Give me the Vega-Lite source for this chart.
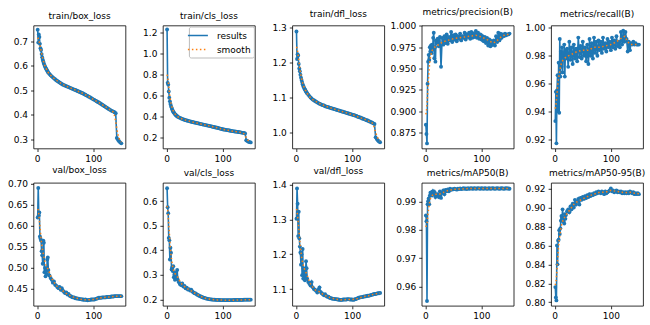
{
  "$schema": "https://vega.github.io/schema/vega-lite/v6.json",
  "background": "white",
  "autosize": {"type": "pad"},
  "padding": {"left": 6.5, "top": 7.5, "right": 0, "bottom": 0},
  "datasets": {
    "res": [
      {"e":1,"a":0.748,"b":1.232,"c":1.289,"d":0.884,"r":0.933,"f":0.620,"g":0.652,"h":1.302,"m":0.985,"n":0.816},
      {"e":2,"a":0.695,"b":0.722,"c":1.210,"d":0.873,"r":0.954,"f":0.690,"g":0.575,"h":1.389,"m":0.983,"n":0.805},
      {"e":3,"a":0.728,"b":0.705,"c":1.224,"d":0.862,"r":0.917,"f":0.625,"g":0.550,"h":1.345,"m":0.955,"n":0.802},
      {"e":4,"a":0.718,"b":0.640,"c":1.220,"d":0.932,"r":0.955,"f":0.632,"g":0.450,"h":1.252,"m":0.989,"n":0.860},
      {"e":5,"a":0.690,"b":0.580,"c":1.196,"d":0.958,"r":0.966,"f":0.575,"g":0.440,"h":1.322,"m":0.990,"n":0.840},
      {"e":6,"a":0.672,"b":0.545,"c":1.183,"d":0.966,"r":0.940,"f":0.570,"g":0.362,"h":1.246,"m":0.991,"n":0.865},
      {"e":7,"a":0.665,"b":0.520,"c":1.175,"d":0.960,"r":0.975,"f":0.565,"g":0.410,"h":1.222,"m":0.989,"n":0.866},
      {"e":8,"a":0.648,"b":0.500,"c":1.165,"d":0.975,"r":0.939,"f":0.540,"g":0.390,"h":1.205,"m":0.992,"n":0.876},
      {"e":9,"a":0.635,"b":0.485,"c":1.157,"d":0.970,"r":0.992,"f":0.530,"g":0.322,"h":1.170,"m":0.993,"n":0.872},
      {"e":10,"a":0.625,"b":0.470,"c":1.150,"d":0.977,"r":0.965,"f":0.510,"g":0.330,"h":1.200,"m":0.9925,"n":0.878},
      {"e":11,"a":0.618,"b":0.455,"c":1.144,"d":0.968,"r":0.983,"f":0.565,"g":0.315,"h":1.140,"m":0.993,"n":0.886},
      {"e":12,"a":0.610,"b":0.445,"c":1.138,"d":0.978,"r":0.972,"f":0.560,"g":0.335,"h":1.215,"m":0.992,"n":0.891},
      {"e":13,"a":0.603,"b":0.438,"c":1.133,"d":0.972,"r":0.986,"f":0.490,"g":0.290,"h":1.130,"m":0.9935,"n":0.889},
      {"e":14,"a":0.598,"b":0.430,"c":1.130,"d":0.986,"r":0.968,"f":0.500,"g":0.300,"h":1.160,"m":0.993,"n":0.898},
      {"e":15,"a":0.592,"b":0.423,"c":1.126,"d":0.992,"r":0.982,"f":0.480,"g":0.280,"h":1.150,"m":0.9935,"n":0.889},
      {"e":16,"a":0.588,"b":0.417,"c":1.123,"d":0.962,"r":0.978,"f":0.492,"g":0.310,"h":1.125,"m":0.9925,"n":0.885},
      {"e":17,"a":0.584,"b":0.412,"c":1.120,"d":0.975,"r":0.988,"f":0.485,"g":0.295,"h":1.140,"m":0.993,"n":0.883},
      {"e":18,"a":0.580,"b":0.406,"c":1.117,"d":0.958,"r":0.965,"f":0.520,"g":0.290,"h":1.180,"m":0.9915,"n":0.893},
      {"e":19,"a":0.576,"b":0.402,"c":1.114,"d":0.983,"r":0.984,"f":0.525,"g":0.320,"h":1.160,"m":0.992,"n":0.888},
      {"e":20,"a":0.572,"b":0.398,"c":1.112,"d":0.980,"r":0.978,"f":0.495,"g":0.280,"h":1.130,"m":0.992,"n":0.892},
      {"e":22,"a":0.567,"b":0.392,"c":1.108,"d":0.985,"r":0.985,"f":0.482,"g":0.270,"h":1.120,"m":0.9925,"n":0.896},
      {"e":24,"a":0.562,"b":0.387,"c":1.104,"d":0.976,"r":0.972,"f":0.476,"g":0.262,"h":1.115,"m":0.9915,"n":0.898},
      {"e":26,"a":0.557,"b":0.382,"c":1.100,"d":0.987,"r":0.990,"f":0.472,"g":0.258,"h":1.110,"m":0.9935,"n":0.895},
      {"e":28,"a":0.553,"b":0.377,"c":1.097,"d":0.952,"r":0.977,"f":0.465,"g":0.265,"h":1.120,"m":0.9912,"n":0.901},
      {"e":30,"a":0.549,"b":0.372,"c":1.094,"d":0.986,"r":0.986,"f":0.468,"g":0.252,"h":1.105,"m":0.9930,"n":0.898},
      {"e":32,"a":0.545,"b":0.369,"c":1.092,"d":0.978,"r":0.974,"f":0.460,"g":0.255,"h":1.100,"m":0.9938,"n":0.904},
      {"e":34,"a":0.541,"b":0.365,"c":1.090,"d":0.988,"r":0.988,"f":0.458,"g":0.245,"h":1.098,"m":0.9925,"n":0.900},
      {"e":36,"a":0.538,"b":0.362,"c":1.088,"d":0.980,"r":0.978,"f":0.455,"g":0.248,"h":1.095,"m":0.9940,"n":0.908},
      {"e":38,"a":0.535,"b":0.359,"c":1.086,"d":0.990,"r":0.985,"f":0.452,"g":0.240,"h":1.090,"m":0.9935,"n":0.903},
      {"e":40,"a":0.532,"b":0.356,"c":1.084,"d":0.979,"r":0.976,"f":0.455,"g":0.242,"h":1.098,"m":0.9942,"n":0.906},
      {"e":42,"a":0.529,"b":0.353,"c":1.082,"d":0.987,"r":0.993,"f":0.448,"g":0.236,"h":1.105,"m":0.9935,"n":0.909},
      {"e":44,"a":0.526,"b":0.350,"c":1.081,"d":0.983,"r":0.979,"f":0.452,"g":0.240,"h":1.092,"m":0.9944,"n":0.903},
      {"e":46,"a":0.523,"b":0.347,"c":1.079,"d":0.993,"r":0.987,"f":0.446,"g":0.232,"h":1.088,"m":0.9940,"n":0.910},
      {"e":48,"a":0.521,"b":0.345,"c":1.078,"d":0.981,"r":0.978,"f":0.443,"g":0.228,"h":1.085,"m":0.9943,"n":0.908},
      {"e":50,"a":0.519,"b":0.342,"c":1.077,"d":0.989,"r":0.990,"f":0.440,"g":0.225,"h":1.082,"m":0.9942,"n":0.911},
      {"e":52,"a":0.517,"b":0.340,"c":1.075,"d":0.984,"r":0.980,"f":0.442,"g":0.224,"h":1.085,"m":0.9944,"n":0.909},
      {"e":54,"a":0.515,"b":0.337,"c":1.074,"d":0.990,"r":0.986,"f":0.437,"g":0.220,"h":1.080,"m":0.9943,"n":0.912},
      {"e":56,"a":0.513,"b":0.335,"c":1.073,"d":0.982,"r":0.976,"f":0.438,"g":0.218,"h":1.078,"m":0.9941,"n":0.910},
      {"e":58,"a":0.511,"b":0.332,"c":1.072,"d":0.988,"r":0.988,"f":0.434,"g":0.215,"h":1.078,"m":0.9944,"n":0.913},
      {"e":60,"a":0.509,"b":0.330,"c":1.071,"d":0.985,"r":0.974,"f":0.433,"g":0.213,"h":1.075,"m":0.9943,"n":0.911},
      {"e":62,"a":0.507,"b":0.327,"c":1.070,"d":0.991,"r":0.992,"f":0.431,"g":0.211,"h":1.074,"m":0.9945,"n":0.914},
      {"e":64,"a":0.505,"b":0.325,"c":1.069,"d":0.983,"r":0.980,"f":0.430,"g":0.209,"h":1.073,"m":0.9943,"n":0.912},
      {"e":66,"a":0.503,"b":0.322,"c":1.068,"d":0.988,"r":0.989,"f":0.430,"g":0.207,"h":1.072,"m":0.9944,"n":0.914},
      {"e":68,"a":0.501,"b":0.320,"c":1.067,"d":0.986,"r":0.978,"f":0.428,"g":0.206,"h":1.072,"m":0.9946,"n":0.913},
      {"e":70,"a":0.499,"b":0.318,"c":1.066,"d":0.992,"r":0.993,"f":0.428,"g":0.204,"h":1.071,"m":0.9944,"n":0.915},
      {"e":72,"a":0.497,"b":0.315,"c":1.065,"d":0.984,"r":0.982,"f":0.427,"g":0.203,"h":1.071,"m":0.9945,"n":0.914},
      {"e":74,"a":0.495,"b":0.313,"c":1.064,"d":0.990,"r":0.990,"f":0.427,"g":0.202,"h":1.070,"m":0.9943,"n":0.916},
      {"e":76,"a":0.493,"b":0.310,"c":1.063,"d":0.987,"r":0.980,"f":0.426,"g":0.201,"h":1.070,"m":0.9946,"n":0.915},
      {"e":78,"a":0.491,"b":0.308,"c":1.062,"d":0.992,"r":0.991,"f":0.426,"g":0.200,"h":1.069,"m":0.9944,"n":0.917},
      {"e":80,"a":0.489,"b":0.305,"c":1.061,"d":0.985,"r":0.984,"f":0.425,"g":0.200,"h":1.069,"m":0.9945,"n":0.916},
      {"e":82,"a":0.487,"b":0.302,"c":1.060,"d":0.993,"r":0.990,"f":0.425,"g":0.199,"h":1.069,"m":0.9946,"n":0.915},
      {"e":84,"a":0.484,"b":0.300,"c":1.059,"d":0.986,"r":0.982,"f":0.424,"g":0.199,"h":1.070,"m":0.9944,"n":0.917},
      {"e":86,"a":0.482,"b":0.297,"c":1.058,"d":0.991,"r":0.993,"f":0.425,"g":0.199,"h":1.070,"m":0.9945,"n":0.916},
      {"e":88,"a":0.479,"b":0.295,"c":1.057,"d":0.987,"r":0.985,"f":0.424,"g":0.198,"h":1.070,"m":0.9946,"n":0.914},
      {"e":90,"a":0.477,"b":0.292,"c":1.056,"d":0.994,"r":0.989,"f":0.423,"g":0.198,"h":1.070,"m":0.9944,"n":0.917},
      {"e":92,"a":0.474,"b":0.290,"c":1.055,"d":0.986,"r":0.983,"f":0.424,"g":0.198,"h":1.071,"m":0.9945,"n":0.915},
      {"e":94,"a":0.472,"b":0.287,"c":1.054,"d":0.992,"r":0.992,"f":0.424,"g":0.198,"h":1.071,"m":0.9946,"n":0.916},
      {"e":96,"a":0.469,"b":0.284,"c":1.053,"d":0.985,"r":0.986,"f":0.425,"g":0.197,"h":1.070,"m":0.9945,"n":0.917},
      {"e":98,"a":0.466,"b":0.281,"c":1.052,"d":0.990,"r":0.990,"f":0.425,"g":0.197,"h":1.070,"m":0.9944,"n":0.918},
      {"e":100,"a":0.463,"b":0.278,"c":1.051,"d":0.984,"r":0.984,"f":0.425,"g":0.197,"h":1.070,"m":0.9946,"n":0.920},
      {"e":102,"a":0.461,"b":0.276,"c":1.050,"d":0.988,"r":0.993,"f":0.425,"g":0.197,"h":1.069,"m":0.9945,"n":0.917},
      {"e":104,"a":0.458,"b":0.274,"c":1.049,"d":0.982,"r":0.986,"f":0.426,"g":0.197,"h":1.070,"m":0.9944,"n":0.918},
      {"e":106,"a":0.455,"b":0.272,"c":1.048,"d":0.987,"r":0.991,"f":0.427,"g":0.197,"h":1.071,"m":0.9946,"n":0.916},
      {"e":108,"a":0.452,"b":0.270,"c":1.047,"d":0.980,"r":0.985,"f":0.428,"g":0.197,"h":1.072,"m":0.9945,"n":0.917},
      {"e":110,"a":0.450,"b":0.268,"c":1.045,"d":0.986,"r":0.994,"f":0.429,"g":0.197,"h":1.074,"m":0.9944,"n":0.918},
      {"e":112,"a":0.447,"b":0.266,"c":1.044,"d":0.977,"r":0.987,"f":0.429,"g":0.197,"h":1.075,"m":0.9945,"n":0.916},
      {"e":114,"a":0.444,"b":0.264,"c":1.043,"d":0.984,"r":0.990,"f":0.429,"g":0.197,"h":1.076,"m":0.9946,"n":0.917},
      {"e":116,"a":0.441,"b":0.262,"c":1.042,"d":0.976,"r":0.986,"f":0.430,"g":0.197,"h":1.077,"m":0.9944,"n":0.916},
      {"e":118,"a":0.438,"b":0.260,"c":1.040,"d":0.982,"r":0.997,"f":0.430,"g":0.197,"h":1.077,"m":0.9945,"n":0.917},
      {"e":120,"a":0.435,"b":0.258,"c":1.039,"d":0.978,"r":0.988,"f":0.430,"g":0.198,"h":1.078,"m":0.9946,"n":0.915},
      {"e":122,"a":0.432,"b":0.256,"c":1.038,"d":0.983,"r":0.998,"f":0.430,"g":0.198,"h":1.079,"m":0.9945,"n":0.916},
      {"e":124,"a":0.429,"b":0.255,"c":1.036,"d":0.977,"r":0.990,"f":0.431,"g":0.198,"h":1.079,"m":0.9944,"n":0.915},
      {"e":126,"a":0.426,"b":0.253,"c":1.035,"d":0.988,"r":0.997,"f":0.431,"g":0.198,"h":1.080,"m":0.9945,"n":0.916},
      {"e":128,"a":0.423,"b":0.252,"c":1.034,"d":0.981,"r":0.992,"f":0.431,"g":0.198,"h":1.081,"m":0.9946,"n":0.915},
      {"e":130,"a":0.420,"b":0.250,"c":1.032,"d":0.992,"r":0.983,"f":0.431,"g":0.198,"h":1.081,"m":0.9945,"n":0.916},
      {"e":132,"a":0.417,"b":0.248,"c":1.031,"d":0.983,"r":0.990,"f":0.432,"g":0.198,"h":1.082,"m":0.9944,"n":0.915},
      {"e":134,"a":0.415,"b":0.246,"c":1.029,"d":0.991,"r":0.984,"f":0.432,"g":0.198,"h":1.083,"m":0.9945,"n":0.917},
      {"e":136,"a":0.413,"b":0.244,"c":1.028,"d":0.986,"r":0.989,"f":0.432,"g":0.198,"h":1.084,"m":0.9946,"n":0.916},
      {"e":138,"a":0.410,"b":0.242,"c":1.026,"d":0.990,"r":0.988,"f":0.433,"g":0.199,"h":1.085,"m":0.9945,"n":0.915},
      {"e":140,"a":0.406,"b":0.238,"c":1.024,"d":0.988,"r":0.990,"f":0.433,"g":0.199,"h":1.086,"m":0.9944,"n":0.916},
      {"e":142,"a":0.305,"b":0.172,"c":0.986,"d":0.991,"r":0.988,"f":0.433,"g":0.199,"h":1.086,"m":0.9945,"n":0.914},
      {"e":144,"a":0.298,"b":0.165,"c":0.981,"d":0.989,"r":0.989,"f":0.433,"g":0.199,"h":1.087,"m":0.9946,"n":0.915},
      {"e":146,"a":0.292,"b":0.159,"c":0.977,"d":0.990,"r":0.988,"f":0.433,"g":0.199,"h":1.088,"m":0.9945,"n":0.914},
      {"e":148,"a":0.287,"b":0.155,"c":0.974,"d":0.990,"r":0.988,"f":0.433,"g":0.199,"h":1.088,"m":0.9945,"n":0.915},
      {"e":150,"a":0.283,"b":0.152,"c":0.972,"d":0.991,"r":0.988,"f":0.433,"g":0.199,"h":1.089,"m":0.9944,"n":0.914}
    ],
    "sm": [
      {"e":1,"a":0.715,"b":0.800,"c":1.245,"d":0.896,"r":0.942,"f":0.640,"g":0.580,"h":1.330,"m":0.981,"n":0.818},
      {"e":2,"a":0.712,"b":0.778,"c":1.240,"d":0.900,"r":0.944,"f":0.638,"g":0.565,"h":1.325,"m":0.9815,"n":0.821},
      {"e":3,"a":0.706,"b":0.739,"c":1.232,"d":0.908,"r":0.948,"f":0.628,"g":0.540,"h":1.310,"m":0.982,"n":0.826},
      {"e":4,"a":0.697,"b":0.689,"c":1.221,"d":0.919,"r":0.952,"f":0.614,"g":0.505,"h":1.295,"m":0.984,"n":0.834},
      {"e":5,"a":0.686,"b":0.636,"c":1.208,"d":0.931,"r":0.957,"f":0.600,"g":0.470,"h":1.276,"m":0.986,"n":0.843},
      {"e":6,"a":0.674,"b":0.591,"c":1.195,"d":0.942,"r":0.961,"f":0.585,"g":0.435,"h":1.256,"m":0.9875,"n":0.852},
      {"e":7,"a":0.662,"b":0.555,"c":1.183,"d":0.951,"r":0.964,"f":0.570,"g":0.405,"h":1.237,"m":0.989,"n":0.860},
      {"e":8,"a":0.651,"b":0.527,"c":1.172,"d":0.958,"r":0.967,"f":0.557,"g":0.380,"h":1.220,"m":0.990,"n":0.866},
      {"e":10,"a":0.630,"b":0.484,"c":1.155,"d":0.966,"r":0.971,"f":0.540,"g":0.345,"h":1.193,"m":0.9915,"n":0.874},
      {"e":12,"a":0.613,"b":0.455,"c":1.141,"d":0.971,"r":0.975,"f":0.527,"g":0.322,"h":1.175,"m":0.992,"n":0.881},
      {"e":15,"a":0.593,"b":0.425,"c":1.127,"d":0.974,"r":0.977,"f":0.508,"g":0.305,"h":1.158,"m":0.9925,"n":0.887},
      {"e":20,"a":0.572,"b":0.398,"c":1.112,"d":0.977,"r":0.979,"f":0.496,"g":0.290,"h":1.140,"m":0.9925,"n":0.892},
      {"e":25,"a":0.559,"b":0.382,"c":1.101,"d":0.978,"r":0.980,"f":0.478,"g":0.268,"h":1.117,"m":0.9925,"n":0.896},
      {"e":30,"a":0.549,"b":0.372,"c":1.094,"d":0.981,"r":0.981,"f":0.466,"g":0.256,"h":1.106,"m":0.993,"n":0.900},
      {"e":35,"a":0.540,"b":0.364,"c":1.089,"d":0.982,"r":0.982,"f":0.457,"g":0.247,"h":1.097,"m":0.9933,"n":0.904},
      {"e":40,"a":0.532,"b":0.356,"c":1.084,"d":0.983,"r":0.983,"f":0.452,"g":0.240,"h":1.094,"m":0.9938,"n":0.906},
      {"e":50,"a":0.519,"b":0.342,"c":1.077,"d":0.985,"r":0.984,"f":0.441,"g":0.226,"h":1.083,"m":0.9942,"n":0.909},
      {"e":60,"a":0.509,"b":0.330,"c":1.071,"d":0.986,"r":0.984,"f":0.433,"g":0.213,"h":1.076,"m":0.9943,"n":0.912},
      {"e":70,"a":0.499,"b":0.318,"c":1.066,"d":0.987,"r":0.986,"f":0.428,"g":0.204,"h":1.071,"m":0.9944,"n":0.914},
      {"e":80,"a":0.489,"b":0.305,"c":1.061,"d":0.988,"r":0.986,"f":0.425,"g":0.200,"h":1.069,"m":0.9945,"n":0.916},
      {"e":90,"a":0.477,"b":0.292,"c":1.056,"d":0.989,"r":0.987,"f":0.424,"g":0.198,"h":1.070,"m":0.9945,"n":0.916},
      {"e":100,"a":0.463,"b":0.278,"c":1.051,"d":0.987,"r":0.988,"f":0.425,"g":0.197,"h":1.070,"m":0.9945,"n":0.918},
      {"e":110,"a":0.450,"b":0.268,"c":1.045,"d":0.984,"r":0.990,"f":0.428,"g":0.197,"h":1.073,"m":0.9945,"n":0.917},
      {"e":120,"a":0.435,"b":0.258,"c":1.039,"d":0.980,"r":0.993,"f":0.430,"g":0.197,"h":1.078,"m":0.9945,"n":0.916},
      {"e":125,"a":0.428,"b":0.254,"c":1.036,"d":0.981,"r":0.994,"f":0.431,"g":0.198,"h":1.080,"m":0.9945,"n":0.9155},
      {"e":130,"a":0.420,"b":0.250,"c":1.032,"d":0.984,"r":0.990,"f":0.431,"g":0.198,"h":1.081,"m":0.9945,"n":0.916},
      {"e":135,"a":0.413,"b":0.245,"c":1.029,"d":0.987,"r":0.988,"f":0.432,"g":0.198,"h":1.083,"m":0.9945,"n":0.916},
      {"e":138,"a":0.396,"b":0.234,"c":1.022,"d":0.988,"r":0.988,"f":0.433,"g":0.199,"h":1.085,"m":0.9945,"n":0.9155},
      {"e":140,"a":0.372,"b":0.218,"c":1.012,"d":0.989,"r":0.988,"f":0.433,"g":0.199,"h":1.086,"m":0.9945,"n":0.9155},
      {"e":142,"a":0.342,"b":0.196,"c":1.000,"d":0.990,"r":0.988,"f":0.433,"g":0.199,"h":1.086,"m":0.9945,"n":0.915},
      {"e":144,"a":0.318,"b":0.180,"c":0.991,"d":0.990,"r":0.988,"f":0.433,"g":0.199,"h":1.087,"m":0.9945,"n":0.915},
      {"e":147,"a":0.298,"b":0.163,"c":0.980,"d":0.990,"r":0.988,"f":0.433,"g":0.199,"h":1.088,"m":0.9945,"n":0.9148},
      {"e":150,"a":0.288,"b":0.155,"c":0.976,"d":0.990,"r":0.988,"f":0.433,"g":0.199,"h":1.088,"m":0.9945,"n":0.9145}
    ]
  },
  "columns": 5,
  "bounds": "flush",
  "spacing": {"row": 34.3, "column": 37.4},
  "resolve": {"legend": {"color": "independent", "strokeDash": "independent"}},
  "concat": [
    {"title": "train/box_loss", "width": 92, "height": 123, "layer": [
      {"data": {"name": "res"}, "mark": {"type": "line", "color": "#1f77b4", "strokeWidth": 1.6, "point": {"filled": true, "size": 15, "color": "#1f77b4"}},
       "encoding": {"x": {"field": "e", "type": "quantitative", "title": null, "scale": {"domain": [-6.45, 157.45], "nice": false, "zero": false}, "axis": {"values": [0, 100], "format": "d", "tickCount": 20}},
                    "y": {"field": "a", "type": "quantitative", "title": null, "scale": {"domain": [0.262, 0.765], "nice": false, "zero": false}, "axis": {"values": [0.3, 0.4, 0.5, 0.6, 0.7], "format": ".1f", "tickCount": 20}}}},
      {"data": {"name": "sm"}, "mark": {"type": "line", "color": "#ff7f0e", "strokeWidth": 1.5, "strokeDash": [1.5, 2.5]},
       "encoding": {"x": {"field": "e", "type": "quantitative", "title": null}, "y": {"field": "a", "type": "quantitative", "title": null}}}
    ]},
    {"title": "train/cls_loss", "width": 92, "height": 123, "layer": [
      {"data": {"name": "res"}, "mark": {"type": "line", "strokeWidth": 1.6, "point": {"filled": true, "size": 15}},
       "encoding": {"x": {"field": "e", "type": "quantitative", "title": null, "scale": {"domain": [-6.45, 157.45], "nice": false, "zero": false}, "axis": {"values": [0, 100], "format": "d", "tickCount": 20}},
                    "y": {"field": "b", "type": "quantitative", "title": null, "scale": {"domain": [0.094, 1.27], "nice": false, "zero": false}, "axis": {"values": [0.2, 0.4, 0.6, 0.8, 1.0, 1.2], "format": ".1f", "tickCount": 20}},
                    "color": {"datum": "results", "type": "nominal", "title": null, "scale": {"domain": ["results", "smooth"], "range": ["#1f77b4", "#ff7f0e"]}, "legend": {"orient": "top-right", "offset": 1}},
                    "strokeDash": {"datum": "results", "type": "nominal", "title": null, "scale": {"domain": ["results", "smooth"], "range": [[1, 0], [1.5, 2.5]]}, "legend": {"orient": "top-right", "offset": 1}}}},
      {"data": {"name": "sm"}, "mark": {"type": "line", "strokeWidth": 1.5},
       "encoding": {"x": {"field": "e", "type": "quantitative", "title": null}, "y": {"field": "b", "type": "quantitative", "title": null},
                    "color": {"datum": "smooth", "type": "nominal", "title": null},
                    "strokeDash": {"datum": "smooth", "type": "nominal", "title": null}}}
    ]},
    {"title": "train/dfl_loss", "width": 92, "height": 123, "layer": [
      {"data": {"name": "res"}, "mark": {"type": "line", "color": "#1f77b4", "strokeWidth": 1.6, "point": {"filled": true, "size": 15, "color": "#1f77b4"}},
       "encoding": {"x": {"field": "e", "type": "quantitative", "title": null, "scale": {"domain": [-6.45, 157.45], "nice": false, "zero": false}, "axis": {"values": [0, 100], "format": "d", "tickCount": 20}},
                    "y": {"field": "c", "type": "quantitative", "title": null, "scale": {"domain": [0.954, 1.306], "nice": false, "zero": false}, "axis": {"values": [1.0, 1.1, 1.2, 1.3], "format": ".1f", "tickCount": 20}}}},
      {"data": {"name": "sm"}, "mark": {"type": "line", "color": "#ff7f0e", "strokeWidth": 1.5, "strokeDash": [1.5, 2.5]},
       "encoding": {"x": {"field": "e", "type": "quantitative", "title": null}, "y": {"field": "c", "type": "quantitative", "title": null}}}
    ]},
    {"title": "metrics/precision(B)", "width": 92, "height": 123, "layer": [
      {"data": {"name": "res"}, "mark": {"type": "line", "color": "#1f77b4", "strokeWidth": 1.6, "point": {"filled": true, "size": 15, "color": "#1f77b4"}},
       "encoding": {"x": {"field": "e", "type": "quantitative", "title": null, "scale": {"domain": [-6.45, 157.45], "nice": false, "zero": false}, "axis": {"values": [0, 100], "format": "d", "tickCount": 20}},
                    "y": {"field": "d", "type": "quantitative", "title": null, "scale": {"domain": [0.856, 1.0005], "nice": false, "zero": false}, "axis": {"values": [0.875, 0.9, 0.925, 0.95, 0.975, 1.0], "format": ".3f", "tickCount": 20}}}},
      {"data": {"name": "sm"}, "mark": {"type": "line", "color": "#ff7f0e", "strokeWidth": 1.5, "strokeDash": [1.5, 2.5]},
       "encoding": {"x": {"field": "e", "type": "quantitative", "title": null}, "y": {"field": "d", "type": "quantitative", "title": null}}}
    ]},
    {"title": "metrics/recall(B)", "width": 92, "height": 123, "layer": [
      {"data": {"name": "res"}, "mark": {"type": "line", "color": "#1f77b4", "strokeWidth": 1.6, "point": {"filled": true, "size": 15, "color": "#1f77b4"}},
       "encoding": {"x": {"field": "e", "type": "quantitative", "title": null, "scale": {"domain": [-6.45, 157.45], "nice": false, "zero": false}, "axis": {"values": [0, 100], "format": "d", "tickCount": 20}},
                    "y": {"field": "r", "type": "quantitative", "title": null, "scale": {"domain": [0.9133, 1.0017], "nice": false, "zero": false}, "axis": {"values": [0.92, 0.94, 0.96, 0.98, 1.0], "format": ".2f", "tickCount": 20}}}},
      {"data": {"name": "sm"}, "mark": {"type": "line", "color": "#ff7f0e", "strokeWidth": 1.5, "strokeDash": [1.5, 2.5]},
       "encoding": {"x": {"field": "e", "type": "quantitative", "title": null}, "y": {"field": "r", "type": "quantitative", "title": null}}}
    ]},
    {"title": "val/box_loss", "width": 92, "height": 123, "layer": [
      {"data": {"name": "res"}, "mark": {"type": "line", "color": "#1f77b4", "strokeWidth": 1.6, "point": {"filled": true, "size": 15, "color": "#1f77b4"}},
       "encoding": {"x": {"field": "e", "type": "quantitative", "title": null, "scale": {"domain": [-6.45, 157.45], "nice": false, "zero": false}, "axis": {"values": [0, 100], "format": "d", "tickCount": 20}},
                    "y": {"field": "f", "type": "quantitative", "title": null, "scale": {"domain": [0.41, 0.7025], "nice": false, "zero": false}, "axis": {"values": [0.45, 0.5, 0.55, 0.6, 0.65, 0.7], "format": ".2f", "tickCount": 20}}}},
      {"data": {"name": "sm"}, "mark": {"type": "line", "color": "#ff7f0e", "strokeWidth": 1.5, "strokeDash": [1.5, 2.5]},
       "encoding": {"x": {"field": "e", "type": "quantitative", "title": null}, "y": {"field": "f", "type": "quantitative", "title": null}}}
    ]},
    {"title": "val/cls_loss", "width": 92, "height": 123, "layer": [
      {"data": {"name": "res"}, "mark": {"type": "line", "color": "#1f77b4", "strokeWidth": 1.6, "point": {"filled": true, "size": 15, "color": "#1f77b4"}},
       "encoding": {"x": {"field": "e", "type": "quantitative", "title": null, "scale": {"domain": [-6.45, 157.45], "nice": false, "zero": false}, "axis": {"values": [0, 100], "format": "d", "tickCount": 20}},
                    "y": {"field": "g", "type": "quantitative", "title": null, "scale": {"domain": [0.174, 0.674], "nice": false, "zero": false}, "axis": {"values": [0.2, 0.3, 0.4, 0.5, 0.6], "format": ".1f", "tickCount": 20}}}},
      {"data": {"name": "sm"}, "mark": {"type": "line", "color": "#ff7f0e", "strokeWidth": 1.5, "strokeDash": [1.5, 2.5]},
       "encoding": {"x": {"field": "e", "type": "quantitative", "title": null}, "y": {"field": "g", "type": "quantitative", "title": null}}}
    ]},
    {"title": "val/dfl_loss", "width": 92, "height": 123, "layer": [
      {"data": {"name": "res"}, "mark": {"type": "line", "color": "#1f77b4", "strokeWidth": 1.6, "point": {"filled": true, "size": 15, "color": "#1f77b4"}},
       "encoding": {"x": {"field": "e", "type": "quantitative", "title": null, "scale": {"domain": [-6.45, 157.45], "nice": false, "zero": false}, "axis": {"values": [0, 100], "format": "d", "tickCount": 20}},
                    "y": {"field": "h", "type": "quantitative", "title": null, "scale": {"domain": [1.052, 1.405], "nice": false, "zero": false}, "axis": {"values": [1.1, 1.2, 1.3, 1.4], "format": ".1f", "tickCount": 20}}}},
      {"data": {"name": "sm"}, "mark": {"type": "line", "color": "#ff7f0e", "strokeWidth": 1.5, "strokeDash": [1.5, 2.5]},
       "encoding": {"x": {"field": "e", "type": "quantitative", "title": null}, "y": {"field": "h", "type": "quantitative", "title": null}}}
    ]},
    {"title": "metrics/mAP50(B)", "width": 92, "height": 123, "layer": [
      {"data": {"name": "res"}, "mark": {"type": "line", "color": "#1f77b4", "strokeWidth": 1.6, "point": {"filled": true, "size": 15, "color": "#1f77b4"}},
       "encoding": {"x": {"field": "e", "type": "quantitative", "title": null, "scale": {"domain": [-6.45, 157.45], "nice": false, "zero": false}, "axis": {"values": [0, 100], "format": "d", "tickCount": 20}},
                    "y": {"field": "m", "type": "quantitative", "title": null, "scale": {"domain": [0.9533, 0.9965], "nice": false, "zero": false}, "axis": {"values": [0.96, 0.97, 0.98, 0.99], "format": ".2f", "tickCount": 20}}}},
      {"data": {"name": "sm"}, "mark": {"type": "line", "color": "#ff7f0e", "strokeWidth": 1.5, "strokeDash": [1.5, 2.5]},
       "encoding": {"x": {"field": "e", "type": "quantitative", "title": null}, "y": {"field": "m", "type": "quantitative", "title": null}}}
    ]},
    {"title": "metrics/mAP50-95(B)", "width": 92, "height": 123, "layer": [
      {"data": {"name": "res"}, "mark": {"type": "line", "color": "#1f77b4", "strokeWidth": 1.6, "point": {"filled": true, "size": 15, "color": "#1f77b4"}},
       "encoding": {"x": {"field": "e", "type": "quantitative", "title": null, "scale": {"domain": [-6.45, 157.45], "nice": false, "zero": false}, "axis": {"values": [0, 100], "format": "d", "tickCount": 20}},
                    "y": {"field": "n", "type": "quantitative", "title": null, "scale": {"domain": [0.7963, 0.926], "nice": false, "zero": false}, "axis": {"values": [0.8, 0.82, 0.84, 0.86, 0.88, 0.9, 0.92], "format": ".2f", "tickCount": 20}}}},
      {"data": {"name": "sm"}, "mark": {"type": "line", "color": "#ff7f0e", "strokeWidth": 1.5, "strokeDash": [1.5, 2.5]},
       "encoding": {"x": {"field": "e", "type": "quantitative", "title": null}, "y": {"field": "n", "type": "quantitative", "title": null}}}
    ]}
  ],
  "config": {
    "font": "DejaVu Sans",
    "view": {"stroke": "black", "strokeWidth": 0.8},
    "axis": {"domain": false, "grid": false, "labelFont": "DejaVu Sans", "labelFontSize": 9, "labelColor": "black", "tickColor": "black", "tickSize": 3, "tickWidth": 0.8, "labelPadding": 3, "labelFlush": false, "labelOverlap": false},
    "title": {"font": "DejaVu Sans", "fontSize": 9, "fontWeight": "normal", "color": "black", "offset": 4.5, "anchor": "middle"},
    "legend": {"labelFont": "DejaVu Sans", "labelFontSize": 9, "labelColor": "black", "symbolType": "M-2,0H2", "symbolSize": 100, "symbolStrokeWidth": 1.5, "strokeColor": "#bbbbbb", "fillColor": "white", "padding": 3, "cornerRadius": 2, "rowPadding": 3, "labelOffset": 13}
  }
}
